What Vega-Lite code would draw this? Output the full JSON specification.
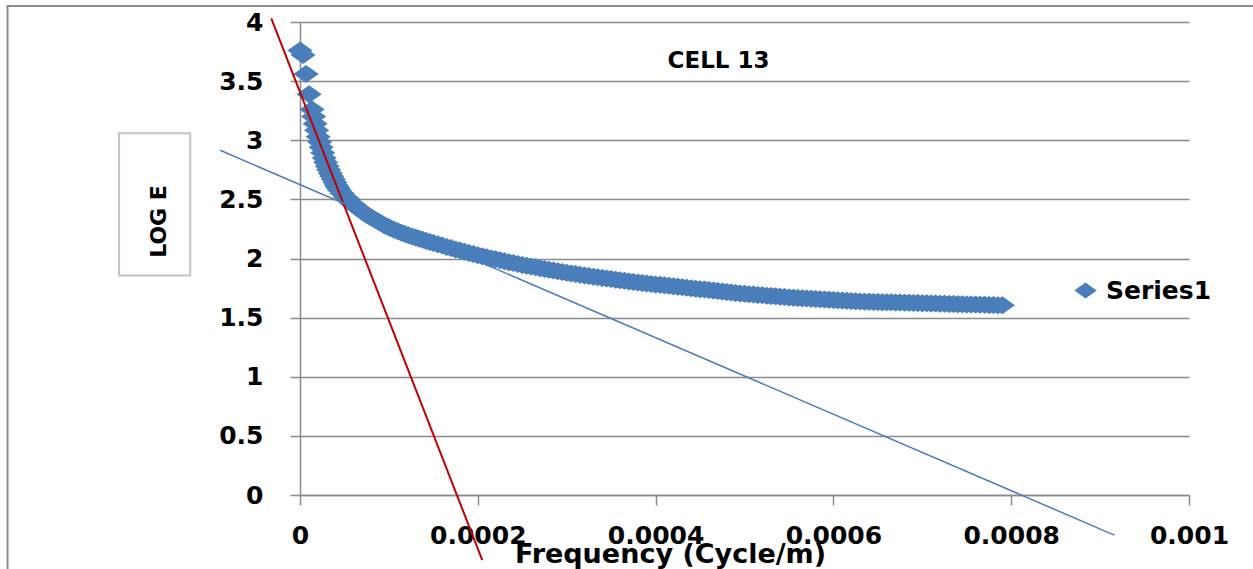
{
  "$schema": "https://vega.github.io/schema/vega-lite/v6.json",
  "width": 889,
  "height": 473,
  "autosize": {"type": "none"},
  "padding": {"left": 300, "top": 22, "right": 64, "bottom": 74},
  "background": "white",
  "config": {
    "view": {"stroke": null},
    "font": "DejaVu Sans"
  },
  "title": {
    "text": "CELL 13",
    "frame": "group",
    "anchor": "middle",
    "dx": -26,
    "dy": 39,
    "offset": -47,
    "baseline": "alphabetic",
    "font": "DejaVu Sans",
    "fontSize": 23,
    "fontWeight": "bold",
    "color": "#000000"
  },
  "datasets": {
    "outer": [{"f": -0.000329, "e": 4.135, "f2": 0.0012, "e2": -0.9}],
    "ybox": [{"f": -0.0002035, "e": 3.059, "f2": -0.0001235, "e2": 1.856}],
    "redtrend": [{"f": -0.0000323, "e": 4.03}, {"f": 0.000205, "e": -0.551}],
    "bluetrend": [{"f": -0.0000898, "e": 2.915}, {"f": 0.000916, "e": -0.339}],
    "pts": [
      {"f": 0, "e": 3.76}, {"f": 3.4e-6, "e": 3.72}, {"f": 6.8e-6, "e": 3.56}, {"f": 1.02e-5, "e": 3.39},
      {"f": 1.36e-5, "e": 3.26}, {"f": 1.53e-5, "e": 3.20}, {"f": 1.7e-5, "e": 3.14}, {"f": 1.87e-5, "e": 3.085},
      {"f": 2.04e-5, "e": 3.03}, {"f": 2.21e-5, "e": 2.985}, {"f": 2.38e-5, "e": 2.94}, {"f": 2.55e-5, "e": 2.895},
      {"f": 2.72e-5, "e": 2.85}, {"f": 2.89e-5, "e": 2.815}, {"f": 3.06e-5, "e": 2.78}, {"f": 3.23e-5, "e": 2.75},
      {"f": 3.4e-5, "e": 2.72}, {"f": 3.57e-5, "e": 2.695}, {"f": 3.74e-5, "e": 2.67}, {"f": 3.91e-5, "e": 2.645},
      {"f": 4.08e-5, "e": 2.62}, {"f": 4.25e-5, "e": 2.60}, {"f": 4.42e-5, "e": 2.58}, {"f": 4.76e-5, "e": 2.55}, {"f": 5.1e-5, "e": 2.52},
      {"f": 5.44e-5, "e": 2.50}, {"f": 5.78e-5, "e": 2.47}, {"f": 6.12e-5, "e": 2.45}, {"f": 6.46e-5, "e": 2.43},
      {"f": 6.8e-5, "e": 2.41}, {"f": 7.14e-5, "e": 2.39}, {"f": 7.48e-5, "e": 2.37}, {"f": 7.82e-5, "e": 2.355},
      {"f": 8.16e-5, "e": 2.34}, {"f": 8.5e-5, "e": 2.325}, {"f": 8.84e-5, "e": 2.31}, {"f": 9.18e-5, "e": 2.295},
      {"f": 9.52e-5, "e": 2.28}, {"f": 9.86e-5, "e": 2.268}, {"f": 1.02e-4, "e": 2.256}, {"f": 1.06e-4, "e": 2.243},
      {"f": 1.10e-4, "e": 2.23}, {"f": 1.14e-4, "e": 2.218}, {"f": 1.18e-4, "e": 2.207}, {"f": 1.22e-4, "e": 2.196},
      {"f": 1.26e-4, "e": 2.186}, {"f": 1.30e-4, "e": 2.177}, {"f": 1.34e-4, "e": 2.168}, {"f": 1.38e-4, "e": 2.158},
      {"f": 1.42e-4, "e": 2.149}, {"f": 1.46e-4, "e": 2.140}, {"f": 1.50e-4, "e": 2.131}, {"f": 1.55e-4, "e": 2.120},
      {"f": 1.60e-4, "e": 2.109}, {"f": 1.65e-4, "e": 2.098}, {"f": 1.70e-4, "e": 2.088}, {"f": 1.75e-4, "e": 2.077},
      {"f": 1.80e-4, "e": 2.067}, {"f": 1.85e-4, "e": 2.057}, {"f": 1.90e-4, "e": 2.047}, {"f": 1.95e-4, "e": 2.037},
      {"f": 2.00e-4, "e": 2.028}, {"f": 2.05e-4, "e": 2.019}, {"f": 2.10e-4, "e": 2.010}, {"f": 2.15e-4, "e": 2.001},
      {"f": 2.20e-4, "e": 1.993}, {"f": 2.25e-4, "e": 1.985}, {"f": 2.30e-4, "e": 1.977}, {"f": 2.35e-4, "e": 1.969},
      {"f": 2.40e-4, "e": 1.961}, {"f": 2.45e-4, "e": 1.953}, {"f": 2.50e-4, "e": 1.946}, {"f": 2.55e-4, "e": 1.939},
      {"f": 2.60e-4, "e": 1.932}, {"f": 2.65e-4, "e": 1.925}, {"f": 2.70e-4, "e": 1.918}, {"f": 2.75e-4, "e": 1.911},
      {"f": 2.80e-4, "e": 1.905}, {"f": 2.85e-4, "e": 1.898}, {"f": 2.90e-4, "e": 1.892}, {"f": 2.95e-4, "e": 1.886},
      {"f": 3.00e-4, "e": 1.880}, {"f": 3.05e-4, "e": 1.874}, {"f": 3.10e-4, "e": 1.868}, {"f": 3.15e-4, "e": 1.862},
      {"f": 3.20e-4, "e": 1.857}, {"f": 3.25e-4, "e": 1.851}, {"f": 3.30e-4, "e": 1.846}, {"f": 3.35e-4, "e": 1.841},
      {"f": 3.40e-4, "e": 1.836}, {"f": 3.45e-4, "e": 1.831}, {"f": 3.50e-4, "e": 1.826}, {"f": 3.55e-4, "e": 1.821},
      {"f": 3.60e-4, "e": 1.816}, {"f": 3.65e-4, "e": 1.811}, {"f": 3.70e-4, "e": 1.806}, {"f": 3.75e-4, "e": 1.801},
      {"f": 3.80e-4, "e": 1.797}, {"f": 3.85e-4, "e": 1.793}, {"f": 3.90e-4, "e": 1.789}, {"f": 3.95e-4, "e": 1.785},
      {"f": 4.00e-4, "e": 1.781}, {"f": 4.05e-4, "e": 1.777}, {"f": 4.10e-4, "e": 1.773}, {"f": 4.15e-4, "e": 1.769},
      {"f": 4.20e-4, "e": 1.765}, {"f": 4.25e-4, "e": 1.761}, {"f": 4.30e-4, "e": 1.757}, {"f": 4.35e-4, "e": 1.753},
      {"f": 4.40e-4, "e": 1.749}, {"f": 4.45e-4, "e": 1.745}, {"f": 4.50e-4, "e": 1.741}, {"f": 4.55e-4, "e": 1.737},
      {"f": 4.60e-4, "e": 1.733}, {"f": 4.65e-4, "e": 1.729}, {"f": 4.70e-4, "e": 1.725}, {"f": 4.75e-4, "e": 1.721},
      {"f": 4.80e-4, "e": 1.717}, {"f": 4.85e-4, "e": 1.713}, {"f": 4.90e-4, "e": 1.709}, {"f": 4.95e-4, "e": 1.705},
      {"f": 5.00e-4, "e": 1.701}, {"f": 5.05e-4, "e": 1.698}, {"f": 5.10e-4, "e": 1.695}, {"f": 5.15e-4, "e": 1.692},
      {"f": 5.20e-4, "e": 1.689}, {"f": 5.25e-4, "e": 1.686}, {"f": 5.30e-4, "e": 1.683}, {"f": 5.35e-4, "e": 1.680},
      {"f": 5.40e-4, "e": 1.677}, {"f": 5.45e-4, "e": 1.674}, {"f": 5.50e-4, "e": 1.671}, {"f": 5.55e-4, "e": 1.668},
      {"f": 5.60e-4, "e": 1.665}, {"f": 5.65e-4, "e": 1.663}, {"f": 5.70e-4, "e": 1.661}, {"f": 5.75e-4, "e": 1.659},
      {"f": 5.80e-4, "e": 1.657}, {"f": 5.85e-4, "e": 1.655}, {"f": 5.90e-4, "e": 1.653}, {"f": 5.95e-4, "e": 1.651},
      {"f": 6.00e-4, "e": 1.649}, {"f": 6.05e-4, "e": 1.647}, {"f": 6.10e-4, "e": 1.645}, {"f": 6.15e-4, "e": 1.643},
      {"f": 6.20e-4, "e": 1.641}, {"f": 6.25e-4, "e": 1.639}, {"f": 6.30e-4, "e": 1.637}, {"f": 6.35e-4, "e": 1.635},
      {"f": 6.40e-4, "e": 1.634}, {"f": 6.45e-4, "e": 1.633}, {"f": 6.50e-4, "e": 1.632}, {"f": 6.55e-4, "e": 1.631},
      {"f": 6.60e-4, "e": 1.630}, {"f": 6.65e-4, "e": 1.629}, {"f": 6.70e-4, "e": 1.628}, {"f": 6.75e-4, "e": 1.627},
      {"f": 6.80e-4, "e": 1.626}, {"f": 6.85e-4, "e": 1.625}, {"f": 6.90e-4, "e": 1.624}, {"f": 6.95e-4, "e": 1.623},
      {"f": 7.00e-4, "e": 1.622}, {"f": 7.05e-4, "e": 1.621}, {"f": 7.10e-4, "e": 1.620}, {"f": 7.15e-4, "e": 1.619},
      {"f": 7.20e-4, "e": 1.618}, {"f": 7.25e-4, "e": 1.617}, {"f": 7.30e-4, "e": 1.616}, {"f": 7.35e-4, "e": 1.615},
      {"f": 7.40e-4, "e": 1.614}, {"f": 7.45e-4, "e": 1.613}, {"f": 7.50e-4, "e": 1.612}, {"f": 7.55e-4, "e": 1.611},
      {"f": 7.60e-4, "e": 1.610}, {"f": 7.65e-4, "e": 1.609}, {"f": 7.70e-4, "e": 1.608}, {"f": 7.75e-4, "e": 1.607},
      {"f": 7.80e-4, "e": 1.606}, {"f": 7.85e-4, "e": 1.605}, {"f": 7.90e-4, "e": 1.604}
    ]
  },
  "encoding": {
    "x": {
      "field": "f",
      "type": "quantitative",
      "scale": {"domain": [0, 0.001], "nice": false, "zero": false},
      "axis": {
        "values": [0, 0.0002, 0.0004, 0.0006, 0.0008, 0.001],
        "format": "~g",
        "grid": false,
        "domainColor": "#8a8a8a",
        "domainWidth": 1.5,
        "tickColor": "#8a8a8a",
        "tickWidth": 1.5,
        "tickSize": 10,
        "labelFont": "DejaVu Sans",
        "labelFontWeight": "bold",
        "labelFontSize": 25,
        "labelColor": "#000000",
        "labelPadding": 18.5,
        "labelFlush": false,
        "labelOverlap": false,
        "labelBound": false,
        "title": "Frequency (Cycle/m)",
        "titleFont": "DejaVu Sans",
        "titleFontWeight": "bold",
        "titleFontSize": 27,
        "titleColor": "#000000",
        "titleX": 370,
        "titleY": 67,
        "titleAlign": "center",
        "titleBaseline": "alphabetic"
      }
    },
    "y": {
      "field": "e",
      "type": "quantitative",
      "scale": {"domain": [0, 4], "nice": false, "zero": false},
      "axis": {
        "values": [0, 0.5, 1, 1.5, 2, 2.5, 3, 3.5, 4],
        "format": "~g",
        "grid": true,
        "gridColor": "#8a8a8a",
        "gridWidth": 1.5,
        "domainColor": "#8a8a8a",
        "domainWidth": 1.5,
        "tickColor": "#8a8a8a",
        "tickWidth": 1.5,
        "tickSize": 10,
        "labelFont": "DejaVu Sans",
        "labelFontWeight": "bold",
        "labelFontSize": 25,
        "labelColor": "#000000",
        "labelPadding": 27,
        "labelFlush": false,
        "labelOverlap": false,
        "labelBound": false,
        "title": "LOG E",
        "titleFont": "DejaVu Sans",
        "titleFontWeight": "bold",
        "titleFontSize": 22,
        "titleColor": "#000000",
        "titleAngle": 270,
        "titleX": -142,
        "titleY": 199,
        "titleAlign": "center",
        "titleBaseline": "middle"
      }
    }
  },
  "layer": [
    {
      "data": {"name": "outer"},
      "mark": {"type": "rect", "fillOpacity": 0, "stroke": "#8c8c8c", "strokeWidth": 2},
      "encoding": {"x2": {"field": "f2"}, "y2": {"field": "e2"}}
    },
    {
      "data": {"name": "ybox"},
      "mark": {"type": "rect", "fillOpacity": 0, "stroke": "#c4c4c4", "strokeWidth": 2},
      "encoding": {"x2": {"field": "f2"}, "y2": {"field": "e2"}}
    },
    {
      "data": {"name": "pts"},
      "mark": {"type": "point", "filled": true, "opacity": 1, "shape": "M-1.4,0L0,-1L1.4,0L0,1Z", "size": 324, "strokeWidth": 0},
      "encoding": {
        "color": {
          "datum": "Series1",
          "type": "nominal",
          "scale": {"range": ["#4A7EBB"]},
          "legend": {
            "title": null,
            "orient": "none",
            "legendX": 773,
            "legendY": 256,
            "padding": 0,
            "symbolType": "M-1.4,0L0,-1L1.4,0L0,1Z",
            "symbolSize": 256,
            "symbolStrokeWidth": 0,
            "symbolOpacity": 1,
            "labelOffset": 8,
            "labelFont": "DejaVu Sans",
            "labelFontWeight": "bold",
            "labelFontSize": 25,
            "labelColor": "#000000",
            "labelLimit": 300
          }
        }
      }
    },
    {
      "data": {"name": "redtrend"},
      "mark": {"type": "line", "color": "#C00000", "strokeWidth": 2},
      "encoding": {}
    },
    {
      "data": {"name": "bluetrend"},
      "mark": {"type": "line", "color": "#4A7EBB", "strokeWidth": 1.5},
      "encoding": {}
    }
  ]
}
